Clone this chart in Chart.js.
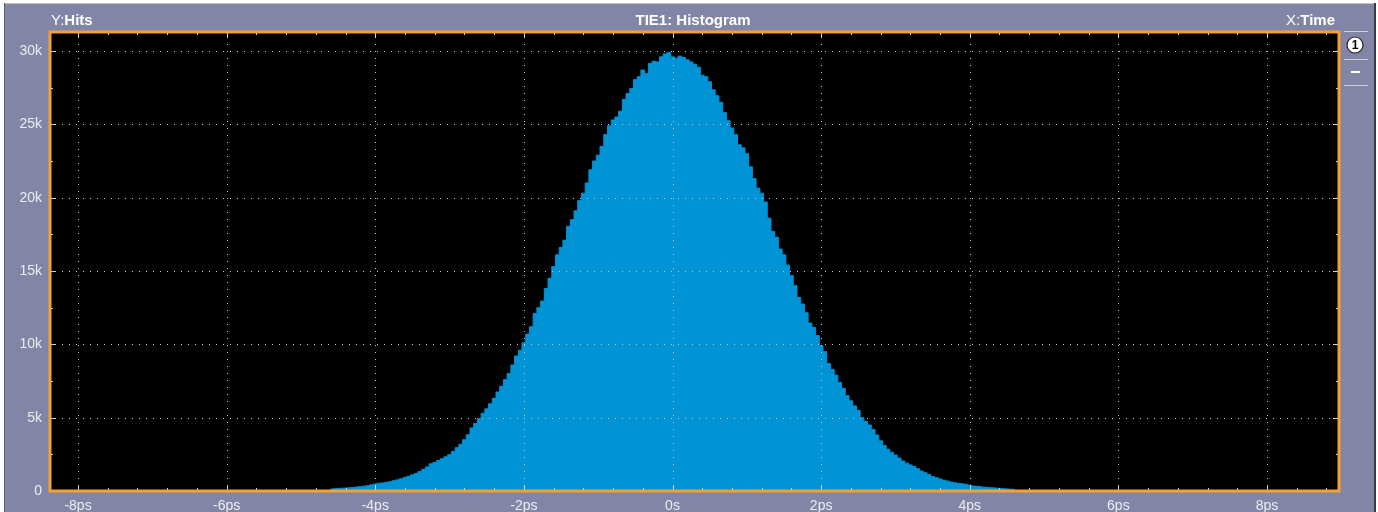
<!DOCTYPE html>
<html>
<head>
<meta charset="utf-8">
<title>TIE1: Histogram</title>
<script src="https://cdn.jsdelivr.net/npm/chart.js@4/dist/chart.umd.min.js"></script>
<style>
  html, body { margin: 0; padding: 0; background: #fff; }
  #wrap { width: 1378px; height: 512px; }
</style>
</head>
<body>
<div id="wrap"><canvas id="hist" width="1378" height="512"></canvas></div>
<script>
// Histogram bins: first bin centre and width (ps), hits
const binStart = -4.6;
const binWidth = 0.05;
const hits = [
  130, 150, 170, 190, 200, 220, 240, 270, 300, 330,
  370, 420, 480, 520, 550, 590, 630, 700, 760, 830,
  930, 1010, 1100, 1200, 1320, 1480, 1640, 1850, 1950, 2080,
  2200, 2330, 2480, 2700, 2950, 3180, 3500, 3830, 4300, 4600,
  4950, 5300, 5600, 5950, 6320, 6750, 7150, 7600, 8000, 8590,
  9200, 9600, 10100, 10700, 11200, 12100, 12500, 12950, 13800, 14500,
  15300, 16100, 16600, 17100, 18050, 18500, 19100, 19800, 20300, 21000,
  21900, 22500, 22900, 23500, 24300, 24900, 25300, 25500, 25900, 26700,
  27100, 27450, 28050, 28250, 28700, 28450, 29150, 29300, 29250, 29600,
  29800, 29900, 29600, 29500, 29650, 29550, 29400, 29250, 29100, 28900,
  28350, 28250, 27900, 27350, 26950, 26500, 25800, 25250, 24750, 24300,
  23600, 23400, 23000, 22100, 21300, 20650, 20300, 19700, 18600, 17700,
  17300, 16500, 16100, 15400, 14700, 14000, 13200, 12750, 12150, 11450,
  11150, 10600, 9900, 9500, 8700, 8300, 7900, 7400, 7000, 6500,
  6150, 5800, 5500, 5000, 4750, 4500, 4200, 3820, 3420, 3100,
  2850, 2650, 2450, 2250, 2050, 1900, 1780, 1680, 1520, 1360,
  1250, 1130, 990, 910, 820, 740, 680, 610, 560, 520,
  490, 450, 390, 340, 320, 290, 260, 240, 220, 200,
  180, 160, 140, 120, 110
];

// axes
const xTickValues = [-8, -6, -4, -2, 0, 2, 4, 6, 8];
const xTickLabels = ["-8ps", "-6ps", "-4ps", "-2ps", "0s", "2ps", "4ps", "6ps", "8ps"];
const yTickValues = [0, 5000, 10000, 15000, 20000, 25000, 30000];
const yTickLabels = ["0", "5k", "10k", "15k", "20k", "25k", "30k"];
const xMin = -8.377, xMax = 8.969;
const yMax = 31295;

const PANEL = "#8385a6";
const ORANGE = "#f4a131";
const BLUE = "#0093d6";
const DOT = "#c8c8cc";
const TICK = "#d4d4d8";

const points = hits.map((h, i) => ({ x: binStart + i * binWidth, y: h }));

const scopeFrame = {
  id: "scopeFrame",
  beforeDraw(chart) {
    const { ctx, chartArea: a } = chart;
    ctx.save();
    ctx.fillStyle = "#fff";
    ctx.fillRect(0, 0, chart.width, chart.height);
    ctx.fillStyle = PANEL;
    ctx.fillRect(4, 3, 1372, 509);
    ctx.fillStyle = "#c4c4c8";            // top highlight
    ctx.fillRect(4, 3, 1372, 1);
    ctx.fillStyle = "#5c5e74";            // left / right shadow
    ctx.fillRect(4, 3, 1, 509);
    ctx.fillStyle = "#3a3a44";
    ctx.fillRect(1374, 3, 2, 509);
    ctx.fillStyle = "#000";
    ctx.fillRect(a.left, a.top, a.width, a.height);
    ctx.restore();
  },
  afterDatasetsDraw(chart) {
    const { ctx, chartArea: a, scales: { x, y } } = chart;
    ctx.save();
    // dotted grid
    ctx.fillStyle = DOT;
    xTickValues.forEach(v => {
      const px = Math.round(x.getPixelForValue(v));
      for (let py = a.top + 5; py < a.bottom - 2; py += 7) ctx.fillRect(px, py, 1, 1);
    });
    yTickValues.slice(1).forEach(v => {
      const py = Math.round(y.getPixelForValue(v));
      for (let px = a.left + 5; px < a.right - 2; px += 7) ctx.fillRect(px, py, 1, 1);
    });
    // tick marks on all four edges
    ctx.fillStyle = TICK;
    for (let v = -8; v <= 8.9; v += 0.4) {
      const px = Math.round(x.getPixelForValue(v));
      const major = Math.abs(v / 2 - Math.round(v / 2)) < 1e-6;
      const len = major ? 6 : 3;
      ctx.fillRect(px, a.top, 1, len);
      ctx.fillRect(px, a.bottom - len, 1, len);
    }
    for (let v = 0; v <= 30000; v += 2500) {
      const py = Math.round(y.getPixelForValue(v));
      const len = v % 5000 === 0 ? 6 : 3;
      ctx.fillRect(a.left, py, len, 1);
      ctx.fillRect(a.right - len, py, len, 1);
    }
    // orange frame
    ctx.strokeStyle = ORANGE;
    ctx.lineWidth = 3;
    ctx.strokeRect(a.left, a.top, a.width, a.height);
    ctx.restore();
  },
  afterDraw(chart) {
    const { ctx } = chart;
    ctx.save();
    ctx.fillStyle = "#fff";
    ctx.textBaseline = "alphabetic";
    // Y:Hits
    ctx.font = "15px 'Liberation Sans', Arial, sans-serif";
    ctx.textAlign = "left";
    ctx.fillText("Y:", 51, 25);
    let w = ctx.measureText("Y:").width;
    ctx.font = "bold 15px 'Liberation Sans', Arial, sans-serif";
    ctx.fillText("Hits", 51 + w, 25);
    // title
    ctx.textAlign = "center";
    ctx.fillText("TIE1: Histogram", 693, 25);
    // X:Time
    ctx.textAlign = "right";
    ctx.fillText("Time", 1335, 25);
    w = ctx.measureText("Time").width;
    ctx.font = "15px 'Liberation Sans', Arial, sans-serif";
    ctx.fillText("X:", 1335 - w, 25);
    // right side panel
    ctx.fillStyle = "#d0d0da";
    [31, 59, 85].forEach(py => ctx.fillRect(1344, py, 24, 1));
    ctx.beginPath();
    ctx.arc(1355, 45, 8, 0, Math.PI * 2);
    ctx.fillStyle = "#fff";
    ctx.fill();
    ctx.strokeStyle = "#202020";
    ctx.lineWidth = 1.2;
    ctx.stroke();
    ctx.fillStyle = "#000";
    ctx.font = "bold 12px 'Liberation Sans', Arial, sans-serif";
    ctx.textAlign = "center";
    ctx.textBaseline = "middle";
    ctx.fillText("1", 1355, 45.5);
    ctx.fillStyle = "#fff";
    ctx.fillRect(1351, 71, 9, 2);
    ctx.restore();
  }
};

Chart.defaults.font.family = "'Liberation Sans', Arial, sans-serif";

new Chart(document.getElementById("hist"), {
  type: "line",
  data: {
    datasets: [{
      data: points,
      stepped: "middle",
      fill: "origin",
      backgroundColor: BLUE,
      borderColor: BLUE,
      borderWidth: 1,
      pointRadius: 0
    }]
  },
  options: {
    responsive: false,
    animation: false,
    events: [],
    layout: { padding: { left: 0, right: 39, top: 32, bottom: 0 } },
    plugins: { legend: { display: false }, tooltip: { enabled: false } },
    scales: {
      x: {
        type: "linear",
        min: xMin, max: xMax,
        grid: { display: false, drawTicks: false },
        border: { display: false },
        afterFit: s => { s.height = 21; },
        afterBuildTicks: s => { s.ticks = xTickValues.map(v => ({ value: v })); },
        ticks: {
          padding: 7,
          color: "#ececf0",
          font: { size: 14 },
          maxRotation: 0,
          autoSkip: false,
          callback: v => xTickLabels[xTickValues.indexOf(v)]
        }
      },
      y: {
        min: 0, max: yMax,
        grid: { display: false, drawTicks: false },
        border: { display: false },
        afterFit: s => { s.width = 50; },
        afterBuildTicks: s => { s.ticks = yTickValues.map(v => ({ value: v })); },
        ticks: {
          padding: 8,
          color: "#ececf0",
          font: { size: 14 },
          callback: v => yTickLabels[yTickValues.indexOf(v)]
        }
      }
    }
  },
  plugins: [scopeFrame]
});
</script>
</body>
</html>
